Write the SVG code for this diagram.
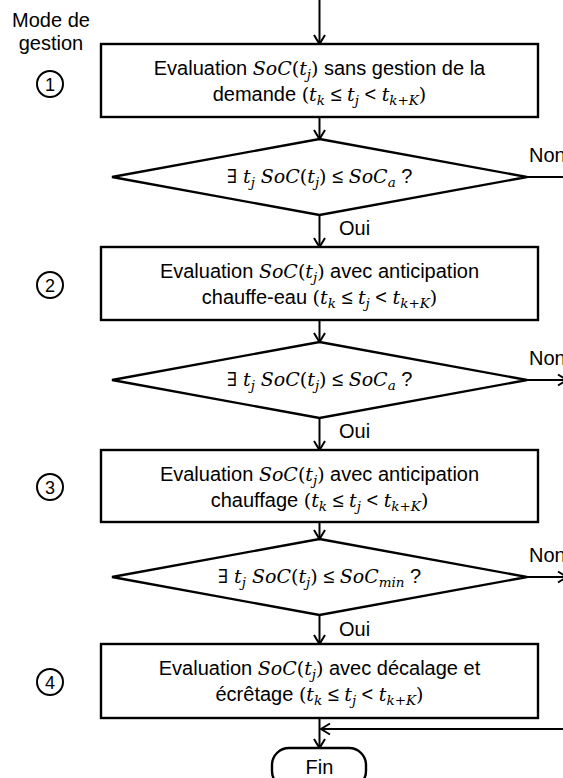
<svg xmlns="http://www.w3.org/2000/svg" width="563" height="778" viewBox="0 0 563 778">
<style>
.box{fill:#fff;stroke:#000;stroke-width:2.4}
.c{fill:none;stroke:#000;stroke-width:2}
.t{font-family:"Liberation Sans",Arial,sans-serif;font-size:20px;fill:#000}
.m{font-family:"DejaVu Serif",serif;font-style:italic;font-size:19px}
.p{font-family:"DejaVu Serif",serif;font-style:normal;font-size:19px}
.s{font-family:"DejaVu Serif",serif;font-style:italic;font-size:13.5px}
.circ{fill:#fff;stroke:#000;stroke-width:2}
.num{font-family:"Liberation Sans",Arial,sans-serif;font-size:18px;fill:#000}
</style>
<defs>
<marker id="ah" markerUnits="userSpaceOnUse" markerWidth="14" markerHeight="14" viewBox="0 0 14 14" refX="11" refY="7" orient="auto" overflow="visible">
<path d="M2,1.5 L11,7 L2,12.5" fill="none" stroke="#000" stroke-width="2"/>
</marker>
</defs>

<g id="label">
<text class="t" x="51" y="27" text-anchor="middle">Mode de</text>
<text class="t" x="51" y="50" text-anchor="middle">gestion</text>
</g>

<g id="connectors">
<line class="c" x1="319.5" y1="0" x2="319.5" y2="44" marker-end="url(#ah)"/>
<line class="c" x1="319.5" y1="117" x2="319.5" y2="139" marker-end="url(#ah)"/>
<line class="c" x1="319.5" y1="215" x2="319.5" y2="247" marker-end="url(#ah)"/>
<line class="c" x1="319.5" y1="320" x2="319.5" y2="342" marker-end="url(#ah)"/>
<line class="c" x1="319.5" y1="418" x2="319.5" y2="450" marker-end="url(#ah)"/>
<line class="c" x1="319.5" y1="522" x2="319.5" y2="539" marker-end="url(#ah)"/>
<line class="c" x1="319.5" y1="615" x2="319.5" y2="644" marker-end="url(#ah)"/>
<line class="c" x1="319.5" y1="718" x2="319.5" y2="748" marker-end="url(#ah)"/>
<line class="c" x1="527" y1="177" x2="565" y2="177"/>
<line class="c" x1="527" y1="380" x2="567" y2="380" marker-end="url(#ah)"/>
<line class="c" x1="527" y1="577" x2="567" y2="577" marker-end="url(#ah)"/>
<line class="c" x1="565" y1="729" x2="321" y2="729" marker-end="url(#ah)"/>
<text class="t" x="529" y="162">Non</text>
<text class="t" x="529" y="365">Non</text>
<text class="t" x="529" y="562">Non</text>
<text class="t" x="339" y="235">Oui</text>
<text class="t" x="339" y="438">Oui</text>
<text class="t" x="339" y="636">Oui</text>
</g>

<g id="mode1">
<circle class="circ" cx="50" cy="84" r="13"/>
<text class="num" x="50" y="90.5" text-anchor="middle">1</text>
</g>
<g id="box1">
<rect class="box" x="101" y="44" width="437" height="73"/>
<text class="t" x="319.5" y="75" text-anchor="middle">Evaluation <tspan class="m">SoC</tspan><tspan class="p">(</tspan><tspan class="m">t</tspan><tspan class="s" dy="4">j</tspan><tspan class="p" dy="-4">)</tspan> sans gestion de la</text>
<text class="t" x="319.5" y="101" text-anchor="middle">demande <tspan class="p">(</tspan><tspan class="m">t</tspan><tspan class="s" dy="4">k</tspan><tspan dy="-4"> ≤ </tspan><tspan class="m">t</tspan><tspan class="s" dy="4">j</tspan><tspan dy="-4"> &lt; </tspan><tspan class="m">t</tspan><tspan class="s" dy="4">k+K</tspan><tspan class="p" dy="-4">)</tspan></text>
</g>
<g id="dec1">
<polygon class="box" points="319.5,139 527,177 319.5,215 112,177"/>
<text class="t" x="319.5" y="183" text-anchor="middle"><tspan class="p">∃ </tspan><tspan class="m">t</tspan><tspan class="s" dy="4">j</tspan><tspan class="m" dy="-4"> SoC</tspan><tspan class="p">(</tspan><tspan class="m">t</tspan><tspan class="s" dy="4">j</tspan><tspan class="p" dy="-4">)</tspan> ≤ <tspan class="m">SoC</tspan><tspan class="s" dy="4">a</tspan><tspan dy="-4"> ?</tspan></text>
</g>

<g id="mode2">
<circle class="circ" cx="50" cy="285" r="13"/>
<text class="num" x="50" y="291.5" text-anchor="middle">2</text>
</g>
<g id="box2">
<rect class="box" x="101" y="247" width="437" height="73"/>
<text class="t" x="319.5" y="278" text-anchor="middle">Evaluation <tspan class="m">SoC</tspan><tspan class="p">(</tspan><tspan class="m">t</tspan><tspan class="s" dy="4">j</tspan><tspan class="p" dy="-4">)</tspan> avec anticipation</text>
<text class="t" x="319.5" y="304" text-anchor="middle">chauffe-eau <tspan class="p">(</tspan><tspan class="m">t</tspan><tspan class="s" dy="4">k</tspan><tspan dy="-4"> ≤ </tspan><tspan class="m">t</tspan><tspan class="s" dy="4">j</tspan><tspan dy="-4"> &lt; </tspan><tspan class="m">t</tspan><tspan class="s" dy="4">k+K</tspan><tspan class="p" dy="-4">)</tspan></text>
</g>
<g id="dec2">
<polygon class="box" points="319.5,342 527,380 319.5,418 112,380"/>
<text class="t" x="319.5" y="386" text-anchor="middle"><tspan class="p">∃ </tspan><tspan class="m">t</tspan><tspan class="s" dy="4">j</tspan><tspan class="m" dy="-4"> SoC</tspan><tspan class="p">(</tspan><tspan class="m">t</tspan><tspan class="s" dy="4">j</tspan><tspan class="p" dy="-4">)</tspan> ≤ <tspan class="m">SoC</tspan><tspan class="s" dy="4">a</tspan><tspan dy="-4"> ?</tspan></text>
</g>

<g id="mode3">
<circle class="circ" cx="50" cy="487" r="13"/>
<text class="num" x="50" y="493.5" text-anchor="middle">3</text>
</g>
<g id="box3">
<rect class="box" x="101" y="450" width="437" height="72"/>
<text class="t" x="319.5" y="481" text-anchor="middle">Evaluation <tspan class="m">SoC</tspan><tspan class="p">(</tspan><tspan class="m">t</tspan><tspan class="s" dy="4">j</tspan><tspan class="p" dy="-4">)</tspan> avec anticipation</text>
<text class="t" x="319.5" y="507" text-anchor="middle">chauffage <tspan class="p">(</tspan><tspan class="m">t</tspan><tspan class="s" dy="4">k</tspan><tspan dy="-4"> ≤ </tspan><tspan class="m">t</tspan><tspan class="s" dy="4">j</tspan><tspan dy="-4"> &lt; </tspan><tspan class="m">t</tspan><tspan class="s" dy="4">k+K</tspan><tspan class="p" dy="-4">)</tspan></text>
</g>
<g id="dec3">
<polygon class="box" points="319.5,539 527,577 319.5,615 112,577"/>
<text class="t" x="319.5" y="583" text-anchor="middle"><tspan class="p">∃ </tspan><tspan class="m">t</tspan><tspan class="s" dy="4">j</tspan><tspan class="m" dy="-4"> SoC</tspan><tspan class="p">(</tspan><tspan class="m">t</tspan><tspan class="s" dy="4">j</tspan><tspan class="p" dy="-4">)</tspan> ≤ <tspan class="m">SoC</tspan><tspan class="s" dy="4">min</tspan><tspan dy="-4"> ?</tspan></text>
</g>

<g id="mode4">
<circle class="circ" cx="50" cy="682" r="13"/>
<text class="num" x="50" y="688.5" text-anchor="middle">4</text>
</g>
<g id="box4">
<rect class="box" x="101" y="644" width="437" height="74"/>
<text class="t" x="319.5" y="675" text-anchor="middle">Evaluation <tspan class="m">SoC</tspan><tspan class="p">(</tspan><tspan class="m">t</tspan><tspan class="s" dy="4">j</tspan><tspan class="p" dy="-4">)</tspan> avec décalage et</text>
<text class="t" x="319.5" y="701" text-anchor="middle">écrêtage <tspan class="p">(</tspan><tspan class="m">t</tspan><tspan class="s" dy="4">k</tspan><tspan dy="-4"> ≤ </tspan><tspan class="m">t</tspan><tspan class="s" dy="4">j</tspan><tspan dy="-4"> &lt; </tspan><tspan class="m">t</tspan><tspan class="s" dy="4">k+K</tspan><tspan class="p" dy="-4">)</tspan></text>
</g>

<g id="fin">
<rect class="box" x="272" y="748" width="94" height="40" rx="17" ry="17"/>
<text class="t" x="319.5" y="774" text-anchor="middle">Fin</text>
</g>
</svg>
